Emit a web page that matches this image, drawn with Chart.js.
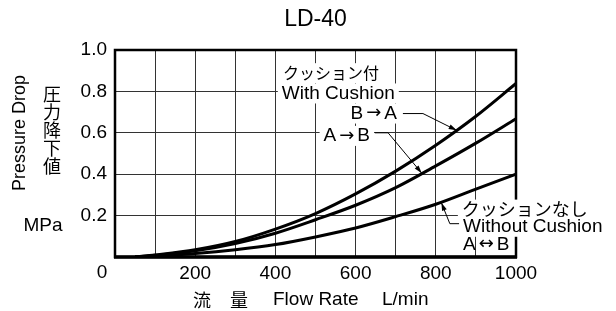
<!DOCTYPE html>
<html>
<head>
<meta charset="utf-8">
<script src="https://cdn.jsdelivr.net/npm/chart.js@4/dist/chart.umd.min.js"></script>
<style>
  body { margin: 0; background: #fff; }
  #wrap { width: 616px; height: 311px; }
</style>
</head>
<body>
<div id="wrap"><canvas id="ldChart" width="616" height="311"></canvas></div>
<script>
const flowRate      = [50, 100, 200, 300, 400, 500, 600, 700, 800, 900, 1000];
const dropBtoA      = [0, 0.010, 0.035, 0.075, 0.135, 0.210, 0.305, 0.415, 0.540, 0.680, 0.838];
const dropAtoB      = [0, 0.008, 0.030, 0.065, 0.115, 0.180, 0.250, 0.335, 0.440, 0.550, 0.668];
const dropNoCushion = [0, 0.005, 0.017, 0.035, 0.060, 0.097, 0.140, 0.195, 0.255, 0.328, 0.400];
const xLabelTicks   = [200, 400, 600, 800, 1000];

const LATIN = '"Liberation Sans", Arial, sans-serif';
const CJK = '"Noto Sans CJK JP", sans-serif';
const ARROW = '"DejaVu Sans", sans-serif';

const toPoints = arr => arr.map((v, i) => ({ x: flowRate[i], y: v }));

const curve = (label, arr) => ({
  label,
  data: toPoints(arr),
  borderColor: "#000",
  borderWidth: 3,
  pointRadius: 0,
  fill: false,
  tension: 0.4,
  cubicInterpolationMode: "monotone"
});

// Textes, cadre et flèches de repère
const annotations = {
  id: "annotations",
  afterDatasetsDraw(chart) {
    const { ctx, chartArea: a, scales: { x, y } } = chart;
    const px = v => x.getPixelForValue(v);
    const py = v => y.getPixelForValue(v);

    ctx.save();
    // cadre
    ctx.strokeStyle = "#000";
    ctx.lineWidth = 2.5;
    ctx.strokeRect(a.left, a.top, a.right - a.left, a.bottom - a.top);
    ctx.lineWidth = 3.5;
    ctx.beginPath();
    ctx.moveTo(a.left - 1, a.bottom);
    ctx.lineTo(a.right + 1, a.bottom);
    ctx.stroke();

    ctx.textBaseline = "middle";
    const text = (str, tx, ty, font, align = "left", bg = false) => {
      ctx.font = font;
      ctx.textAlign = align;
      if (bg) {
        const w = ctx.measureText(str).width;
        const x0 = align === "left" ? tx : align === "right" ? tx - w : tx - w / 2;
        ctx.fillStyle = "#fff";
        ctx.fillRect(x0 - 4, ty - 10, w + 8, 20);
      }
      ctx.fillStyle = "#000";
      ctx.fillText(str, tx, ty);
    };

    // "B → A" : lettres + flèche plus grande
    const arrowText = (a1, arr, a2, tx, ty, align, bg) => {
      const parts = [[a1, "19px " + LATIN, 3], [arr, "18px " + ARROW, 3], [a2, "19px " + LATIN, 0]];
      let total = 0;
      parts.forEach(p => { ctx.font = p[1]; p.push(ctx.measureText(p[0]).width); total += p[3] + p[2]; });
      let cx = align === "right" ? tx - total : tx;
      if (bg) {
        ctx.fillStyle = "#fff";
        ctx.fillRect(cx - 4, ty - 10, total + 8, 20);
      }
      ctx.fillStyle = "#000";
      ctx.textAlign = "left";
      parts.forEach(p => {
        ctx.font = p[1];
        ctx.fillText(p[0], cx, ty);
        cx += p[3] + p[2];
      });
    };

    const leader = pts => {
      ctx.strokeStyle = "#000";
      ctx.lineWidth = 1;
      ctx.beginPath();
      pts.forEach(([vx, vy], i) => i ? ctx.lineTo(px(vx), py(vy)) : ctx.moveTo(px(vx), py(vy)));
      ctx.stroke();
      // pointe de flèche sur la courbe
      const [x1, y1] = [px(pts[pts.length - 2][0]), py(pts[pts.length - 2][1])];
      const [x2, y2] = [px(pts[pts.length - 1][0]), py(pts[pts.length - 1][1])];
      const ang = Math.atan2(y2 - y1, x2 - x1);
      ctx.beginPath();
      ctx.moveTo(x2, y2);
      ctx.lineTo(x2 - 8 * Math.cos(ang) + 2.5 * Math.sin(ang), y2 - 8 * Math.sin(ang) - 2.5 * Math.cos(ang));
      ctx.lineTo(x2 - 8 * Math.cos(ang) - 2.5 * Math.sin(ang), y2 - 8 * Math.sin(ang) + 2.5 * Math.cos(ang));
      ctx.closePath();
      ctx.fillStyle = "#000";
      ctx.fill();
    };

    // avec amortissement
    text("クッション付", px(419), py(0.888), "16px " + CJK, "left", true);
    text("With Cushion", px(416), py(0.79), "19px " + LATIN, "left", true);
    arrowText("B", "→", "A", px(703), py(0.693), "right", true);
    arrowText("A", "→", "B", px(636), py(0.585), "right", true);
    leader([[718, 0.693], [768, 0.693], [852, 0.612]]);
    leader([[648, 0.600], [681, 0.600], [765, 0.405]]);

    // sans amortissement
    leader([[860, 0.161], [835, 0.161], [814, 0.262]]);
    text("クッションなし", px(865), py(0.229), "18px " + CJK, "left", true);
    text("Without Cushion", px(868), py(0.146), "19px " + LATIN, "left", true);
    arrowText("A", "↔", "B", px(868), py(0.059), "left", false);

    // titre et légendes des axes
    text("LD-40", (a.left + a.right) / 2, 20, "23px " + LATIN, "center");
    text("0", a.left - 13, 273, "19px " + LATIN, "center");
    text("MPa", 43, 226, "19px " + LATIN, "center");
    "圧力降下値".split("").forEach((c, i) => text(c, 52, 94 + i * 18, "18px " + CJK, "center"));
    text("流", 202, 300, "18px " + CJK, "center");
    text("量", 239, 300, "18px " + CJK, "center");
    text("Flow Rate", 273, 300, "19px " + LATIN, "left");
    text("L/min", 382, 300, "19px " + LATIN, "left");

    ctx.translate(20, 133);
    ctx.rotate(-Math.PI / 2);
    text("Pressure Drop", 0, 0, "18px " + LATIN, "center");
    ctx.restore();
  }
};

const ctx = document.getElementById("ldChart").getContext("2d");
new Chart(ctx, {
  type: "line",
  data: {
    datasets: [
      curve("B→A", dropBtoA),
      curve("A→B", dropAtoB),
      curve("A↔B", dropNoCushion)
    ]
  },
  options: {
    responsive: false,
    animation: false,
    layout: { padding: { left: 0, right: 100, top: 50, bottom: 0 } },
    plugins: { legend: { display: false }, tooltip: { enabled: false } },
    scales: {
      x: {
        type: "linear",
        min: 0,
        max: 1000,
        afterFit: s => { s.height = 54; },
        grid: { color: "#333", lineWidth: 1, drawTicks: false },
        border: { display: false },
        ticks: {
          stepSize: 100,
          autoSkip: false,
          maxRotation: 0,
          padding: 5,
          color: "#000",
          font: { family: LATIN, size: 19 },
          callback: v => xLabelTicks.includes(v) ? String(v) : ""
        }
      },
      y: {
        min: 0,
        max: 1,
        afterFit: s => { s.width = 115; },
        grid: { color: "#333", lineWidth: 1, drawTicks: false },
        border: { display: false },
        ticks: {
          stepSize: 0.2,
          padding: 8,
          color: "#000",
          font: { family: LATIN, size: 19 },
          callback: v => v === 0 ? "" : v.toFixed(1)
        }
      }
    }
  },
  plugins: [annotations]
});
</script>
</body>
</html>
